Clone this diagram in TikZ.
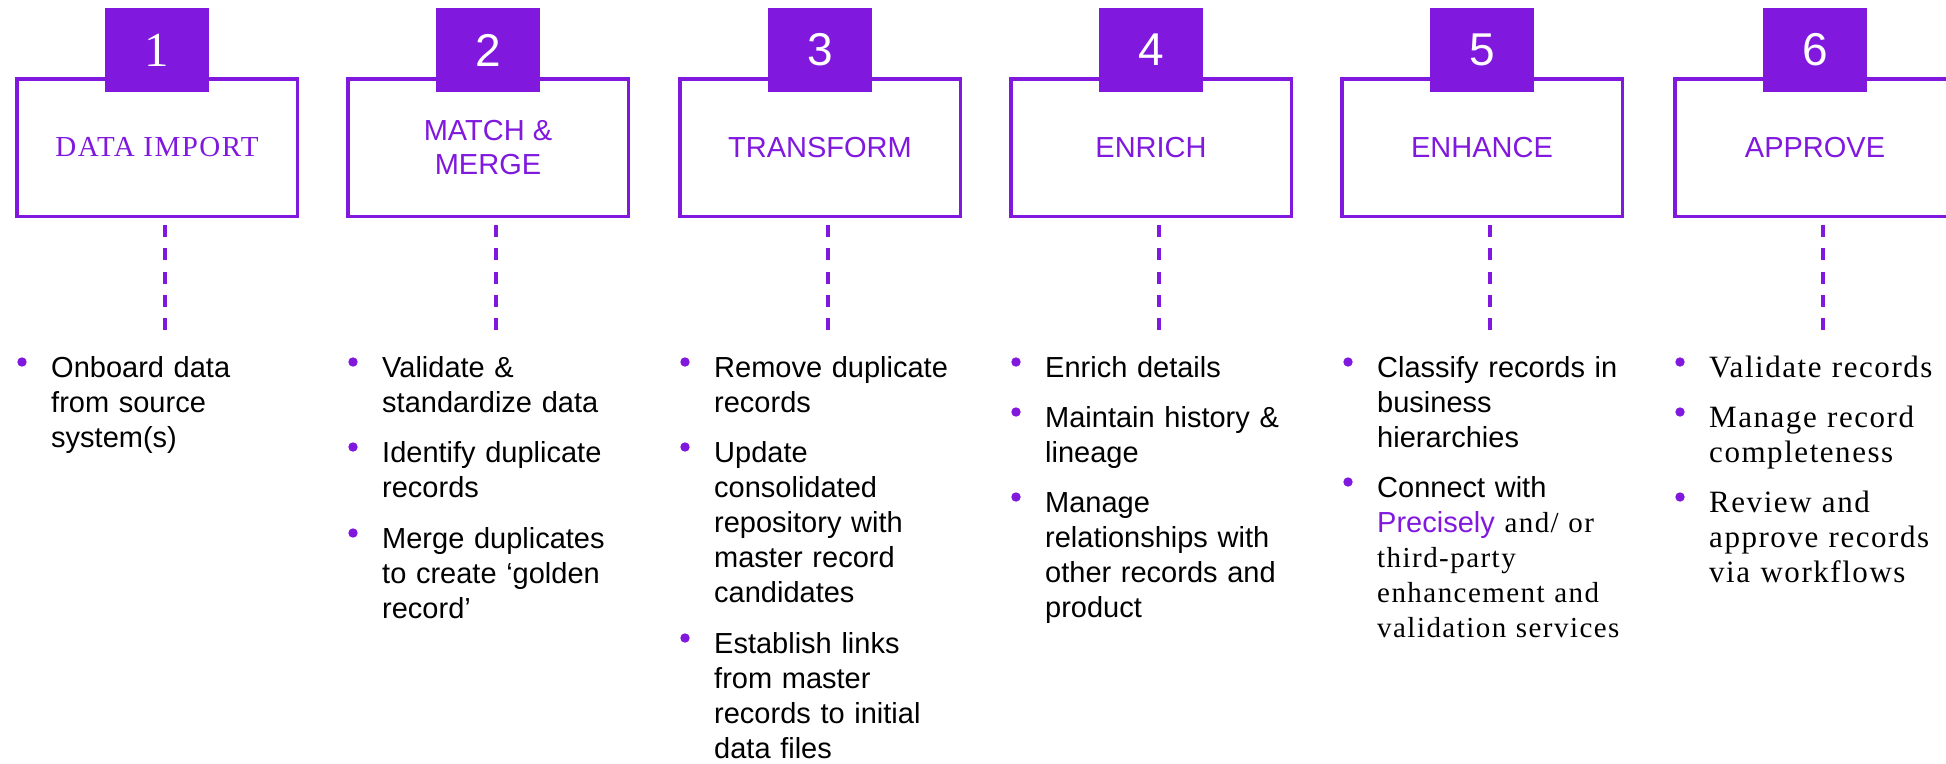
\documentclass[tikz,border=0pt]{standalone}
\usepackage{fontspec}
\setmainfont{Liberation Serif}
\setsansfont{Liberation Sans}
\newfontfamily\titleserif[LetterSpace=5]{Liberation Serif}
\newfontfamily\spacedserif[LetterSpace=5]{Liberation Serif}
\usetikzlibrary{positioning}
\definecolor{mdmpurple}{RGB}{128,24,222}

\tikzset{
  stagebox/.style={draw=mdmpurple, line width=3.5pt, minimum width=280.5pt, minimum height=137.5pt,
    inner sep=0pt, align=center, text=mdmpurple, font=\sffamily\fontsize{29}{34}\selectfont},
  numbox/.style={fill=mdmpurple, minimum width=104pt, minimum height=84pt, inner sep=0pt,
    text=white, font=\sffamily\fontsize{46}{50}\selectfont},
  itemtext/.style={anchor=base west, inner sep=0pt, text width=285pt, align=left,
    font=\sffamily\fontsize{29}{35}\selectfont},
  dashline/.style={draw=mdmpurple, line width=3.3pt, dash pattern=on 12pt off 11.3pt},
}
% purple dot in front of an item
\newcommand{\itemdot}[1]{\fill[mdmpurple] ([shift={(-29,-15)}]#1.base west) circle (4.7pt);}

\begin{document}
\begin{tikzpicture}[x=1pt,y=-1pt]
  \useasboundingbox (0,0) rectangle (1946,763);

  % the six stages
  \node[stagebox] (b1) at (157,147.5) {\titleserif DATA IMPORT};
  \node[stagebox] (b2) at (488,147.5) {MATCH \&\\MERGE};
  \node[stagebox] (b3) at (820,147.5) {TRANSFORM};
  \node[stagebox] (b4) at (1151,147.5) {ENRICH};
  \node[stagebox] (b5) at (1482,147.5) {ENHANCE};
  \node[stagebox] (b6) at (1815,147.5) {APPROVE};

  \node[numbox] (n1) at (157,50) {\rmfamily\fontsize{49}{52}\selectfont 1};
  \node[numbox] (n2) at (488,50) {2};
  \node[numbox] (n3) at (820,50) {3};
  \node[numbox] (n4) at (1151,50) {4};
  \node[numbox] (n5) at (1482,50) {5};
  \node[numbox] (n6) at (1815,50) {6};

  \draw[dashline] ([shift={(8,7)}]b1.south) -- ++(0,105);
  \draw[dashline] ([shift={(8,7)}]b2.south) -- ++(0,105);
  \draw[dashline] ([shift={(8,7)}]b3.south) -- ++(0,105);
  \draw[dashline] ([shift={(8,7)}]b4.south) -- ++(0,105);
  \draw[dashline] ([shift={(8,7)}]b5.south) -- ++(0,105);
  \draw[dashline] ([shift={(8,7)}]b6.south) -- ++(0,105);

  % bullet lists
  \node[itemtext] (i11) at (51,377) {Onboard data\\from source\\system(s)};

  \node[itemtext] (i21) at (382,377) {Validate \&\\standardize data};
  \node[itemtext] (i22) at (382,462) {Identify duplicate\\records};
  \node[itemtext] (i23) at (382,548) {Merge duplicates\\to create `golden\\record'};

  \node[itemtext] (i31) at (714,377) {Remove duplicate\\records};
  \node[itemtext] (i32) at (714,462) {Update\\consolidated\\repository with\\master record\\candidates};
  \node[itemtext] (i33) at (714,653) {Establish links\\from master\\records to initial\\data files};

  \node[itemtext] (i41) at (1045,377) {Enrich details};
  \node[itemtext] (i42) at (1045,427) {Maintain history \&\\lineage};
  \node[itemtext] (i43) at (1045,512) {Manage\\relationships with\\other records and\\product};

  \node[itemtext] (i51) at (1377,377) {Classify records in\\business\\hierarchies};
  \node[itemtext] (i52) at (1377,497) {Connect with\\{\color{mdmpurple}Precisely} {\spacedserif and/ or}\\
    {\spacedserif third-party}\\{\spacedserif enhancement and}\\{\spacedserif validation services}};

  \node[itemtext, font=\spacedserif\fontsize{31}{35}\selectfont] (i61) at (1709,377) {Validate records};
  \node[itemtext, font=\spacedserif\fontsize{31}{35}\selectfont] (i62) at (1709,427) {Manage record\\completeness};
  \node[itemtext, font=\spacedserif\fontsize{31}{35}\selectfont] (i63) at (1709,512) {Review and\\approve records\\via workflows};

  \itemdot{i11}
  \itemdot{i21} \itemdot{i22} \itemdot{i23}
  \itemdot{i31} \itemdot{i32} \itemdot{i33}
  \itemdot{i41} \itemdot{i42} \itemdot{i43}
  \itemdot{i51} \itemdot{i52}
  \itemdot{i61} \itemdot{i62} \itemdot{i63}
\end{tikzpicture}
\end{document}
